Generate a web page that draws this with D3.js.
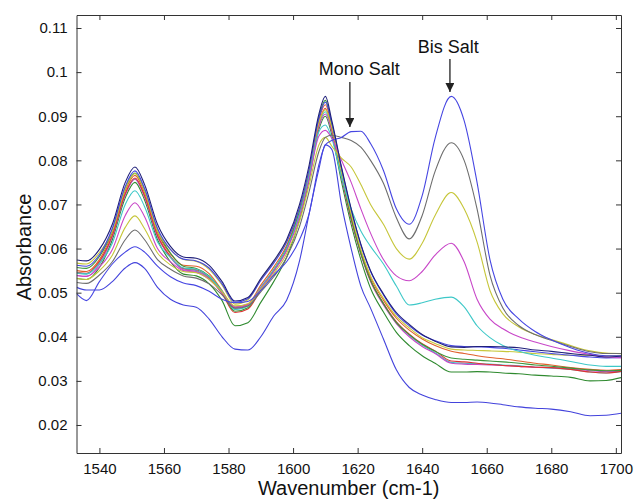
<!DOCTYPE html>
<html lang="en">
<head>
    <meta charset="UTF-8">
    <title>Absorbance spectra</title>
</head>
<style>
    body { margin: 0; background: #fff; }
    text { font-family: "Liberation Sans", Arial, sans-serif; fill: #111; }
    .spec { fill: none; stroke-width: 1.1px; stroke-linejoin: round; }
</style>
<body>
<script src="https://d3js.org/d3.v7.min.js"></script>
<script>
    const width = 636, height = 502;
    const margin = {top: 15, right: 15, bottom: 49, left: 76.5};

    // wavenumber grid (cm-1) shared by all spectra
    const wavenumbers = [1533, 1536, 1540, 1544, 1548, 1551, 1554, 1558, 1562, 1566,
        1570, 1574, 1578, 1582, 1586, 1590, 1594, 1598, 1602, 1605,
        1608, 1610, 1612, 1615, 1618, 1621, 1624, 1628, 1632, 1636,
        1640, 1644, 1649, 1653, 1657, 1661, 1665, 1670, 1675, 1680,
        1686, 1692, 1697, 1702];

    // spectra without the bis salt band
    const navy = [.0574, .0572, .0598, .0655, .0750, .0785, .0745, .0655, .0605, .0581,
        .0578, .0562, .0525, .0481, .0489, .0532, .0572, .0620, .0700, .0790,
        .0905, .0945, .0890, .0785, .0690, .0610, .0550, .0497, .0455, .0428,
        .0405, .0390, .0377, .0376, .0378, .0378, .0377, .0375, .0370, .0367,
        .0362, .0358, .0354, .0356];
    const blue = [.0562, .0560, .0586, .0646, .0741, .0776, .0736, .0646, .0598, .0576,
        .0572, .0556, .0520, .0478, .0486, .0528, .0567, .0614, .0692, .0780,
        .0895, .0932, .0885, .0782, .0688, .0608, .0548, .0495, .0452, .0425,
        .0404, .0391, .0380, .0378, .0377, .0376, .0374, .0370, .0366, .0362,
        .0358, .0354, .0352, .0353];
    const yellow = [.0567, .0565, .0591, .0640, .0735, .0770, .0730, .0640, .0598, .0575,
        .0571, .0553, .0517, .0474, .0484, .0530, .0570, .0616, .0692, .0778,
        .0885, .0915, .0875, .0772, .0678, .0598, .0538, .0487, .0446, .0420,
        .0398, .0385, .0372, .0370, .0369, .0368, .0367, .0365, .0362, .0360,
        .0358, .0358, .0357, .0358];
    const green = [.0557, .0555, .0582, .0641, .0736, .0771, .0731, .0641, .0590, .0560,
        .0555, .0538, .0502, .0458, .0466, .0510, .0552, .0602, .0685, .0775,
        .0898, .0936, .0880, .0770, .0670, .0590, .0528, .0475, .0432, .0405,
        .0383, .0367, .0352, .0349, .0347, .0345, .0343, .0340, .0336, .0333,
        .0329, .0325, .0323, .0324];
    const orange = [.0550, .0548, .0575, .0636, .0731, .0766, .0726, .0636, .0588, .0562,
        .0560, .0543, .0505, .0465, .0473, .0517, .0558, .0607, .0688, .0776,
        .0892, .0926, .0878, .0772, .0674, .0595, .0535, .0483, .0442, .0415,
        .0395, .0380, .0367, .0362, .0357, .0353, .0350, .0345, .0340, .0336,
        .0330, .0326, .0324, .0326];
    const red = [.0546, .0544, .0571, .0630, .0725, .0760, .0720, .0630, .0582, .0555,
        .0552, .0535, .0498, .0455, .0463, .0507, .0549, .0598, .0680, .0770,
        .0884, .0918, .0872, .0766, .0668, .0590, .0528, .0476, .0434, .0406,
        .0384, .0368, .0345, .0343, .0340, .0337, .0335, .0333, .0331, .0330,
        .0326, .0320, .0318, .0322];
    const magenta = [.0539, .0537, .0564, .0627, .0722, .0757, .0717, .0627, .0580, .0552,
        .0548, .0532, .0500, .0468, .0474, .0512, .0550, .0598, .0678, .0765,
        .0876, .0905, .0865, .0762, .0665, .0587, .0525, .0472, .0430, .0400,
        .0378, .0362, .0340, .0338, .0337, .0336, .0335, .0333, .0331, .0330,
        .0327, .0323, .0321, .0322];
    const cyan = [.0544, .0542, .0569, .0628, .0723, .0758, .0718, .0628, .0582, .0555,
        .0550, .0533, .0500, .0462, .0470, .0510, .0550, .0600, .0680, .0768,
        .0880, .0910, .0868, .0765, .0668, .0590, .0528, .0475, .0433, .0403,
        .0381, .0364, .0342, .0340, .0339, .0338, .0336, .0334, .0331, .0329,
        .0326, .0320, .0318, .0321];
    const green2 = [.0532, .0530, .0557, .0620, .0715, .0750, .0710, .0620, .0570, .0542,
        .0538, .0520, .0482, .0425, .0432, .0478, .0525, .0580, .0665, .0757,
        .0870, .0900, .0858, .0752, .0655, .0575, .0510, .0456, .0410, .0380,
        .0357, .0340, .0320, .0320, .0321, .0320, .0318, .0316, .0313, .0311,
        .0308, .0300, .0301, .0308];

    // spectra showing the bis salt band at ~1648
    const bisCyan = [.0545, .0543, .0566, .0612, .0700, .0731, .0695, .0615, .0580, .0556,
        .0553, .0536, .0503, .0462, .0470, .0512, .0552, .0600, .0678, .0765,
        .0865, .0880, .0850, .0762, .0690, .0640, .0605, .0565, .0515, .0472,
        .0477, .0485, .0490, .0468, .0425, .0398, .0380, .0367, .0358, .0352,
        .0344, .0336, .0333, .0333];
    const bisMagenta = [.0539, .0537, .0558, .0598, .0675, .0704, .0672, .0600, .0570, .0550,
        .0546, .0530, .0500, .0466, .0472, .0510, .0548, .0595, .0672, .0758,
        .0855, .0868, .0850, .0800, .0750, .0690, .0635, .0575, .0538, .0527,
        .0548, .0585, .0612, .0570, .0485, .0440, .0418, .0400, .0388, .0378,
        .0368, .0360, .0354, .0352];
    const bisYellow = [.0532, .0530, .0550, .0585, .0648, .0674, .0645, .0590, .0563, .0548,
        .0545, .0530, .0502, .0470, .0475, .0508, .0543, .0588, .0662, .0745,
        .0835, .0852, .0832, .0805, .0785, .0745, .0700, .0655, .0600, .0576,
        .0612, .0675, .0727, .0690, .0615, .0505, .0452, .0422, .0405, .0394,
        .0380, .0368, .0363, .0362];
    const bisGray = [.0523, .0521, .0540, .0570, .0620, .0642, .0620, .0575, .0553, .0538,
        .0533, .0520, .0495, .0465, .0470, .0502, .0536, .0580, .0650, .0730,
        .0820, .0852, .0857, .0852, .0845, .0830, .0800, .0748, .0670, .0622,
        .0675, .0775, .0840, .0800, .0690, .0540, .0465, .0425, .0405, .0392,
        .0378, .0366, .0362, .0362];
    const bisBlue = [.0497, .0482, .0525, .0565, .0592, .0604, .0592, .0560, .0536, .0522,
        .0516, .0503, .0485, .0477, .0480, .0505, .0540, .0570, .0620, .0680,
        .0790, .0835, .0845, .0852, .0865, .0866, .0838, .0777, .0690, .0655,
        .0720, .0850, .0945, .0890, .0750, .0575, .0485, .0440, .0412, .0393,
        .0375, .0362, .0357, .0357];
    const lowBlue = [.0512, .0506, .0506, .0525, .0556, .0568, .0555, .0512, .0485, .0472,
        .0467, .0440, .0400, .0372, .0370, .0400, .0447, .0483, .0572, .0680,
        .0780, .0835, .0825, .0700, .0600, .0515, .0465, .0395, .0325, .0285,
        .0268, .0258, .0251, .0251, .0252, .0250, .0246, .0241, .0238, .0236,
        .0230, .0221, .0222, .0227];

    const xTicks = [1540, 1560, 1580, 1600, 1620, 1640, 1660, 1680, 1700];
    const yTicks = [0.02, 0.03, 0.04, 0.05, 0.06, 0.07, 0.08, 0.09, 0.1, 0.11];

    const spectra = [
        {values: lowBlue, color: "#4343dc"},
        {values: green2, color: "#2f8a2f"},
        {values: cyan, color: "#3cc6c6"},
        {values: magenta, color: "#c648c6"},
        {values: red, color: "#e03232"},
        {values: orange, color: "#e0602c"},
        {values: green, color: "#3a963a"},
        {values: yellow, color: "#c8c83c"},
        {values: blue, color: "#4646e0"},
        {values: bisCyan, color: "#3ec8c8"},
        {values: bisMagenta, color: "#c846c8"},
        {values: bisYellow, color: "#c6c63a"},
        {values: bisGray, color: "#6e6e6e"},
        {values: bisBlue, color: "#4646e2"},
        {values: navy, color: "#20207a"}
    ];

    const svg = d3.select("body")
        .append("svg")
        .attr("width", width)
        .attr("height", height);

    const x = d3.scaleLinear()
        .domain([1532.9, 1701.6])
        .range([margin.left, width - margin.right]);
    const y = d3.scaleLinear()
        .domain([0.01365, 0.11295])
        .range([height - margin.bottom, margin.top]);

    svg.append("clipPath").attr("id", "plot-clip")
        .append("rect")
        .attr("x", margin.left).attr("y", margin.top)
        .attr("width", width - margin.left - margin.right)
        .attr("height", height - margin.top - margin.bottom);

    const line = d3.line()
        .x(function (d, i) { return x(wavenumbers[i]); })
        .y(function (d) { return y(d); })
        .curve(d3.curveMonotoneX);

    svg.append("g")
        .attr("clip-path", "url(#plot-clip)")
        .selectAll("path.spec")
        .data(spectra)
        .enter().append("path")
        .attr("class", "spec")
        .attr("stroke", function (d) { return d.color; })
        .attr("d", function (d) { return line(d.values); });

    // axes, MATLAB style box with inward ticks on all sides
    const fmt = function (d) { return String(+d.toFixed(2)); };
    const axisStyle = function (g) {
        g.select(".domain").attr("stroke", "#333");
        g.selectAll(".tick line").attr("stroke", "#333");
        g.selectAll("text").style("font-size", "15px").attr("fill", "#111");
    };

    svg.append("g")
        .attr("transform", "translate(0," + (height - margin.bottom) + ")")
        .call(d3.axisBottom(x).tickValues(xTicks).tickFormat(d3.format("d"))
            .tickSize(-5).tickPadding(7).tickSizeOuter(0))
        .call(axisStyle)
        .call(function (g) { g.selectAll("text").attr("dy", "0.95em"); });
    svg.append("g")
        .attr("transform", "translate(0," + margin.top + ")")
        .call(d3.axisTop(x).tickValues(xTicks).tickSize(-5).tickFormat("").tickSizeOuter(0))
        .call(axisStyle);
    svg.append("g")
        .attr("transform", "translate(" + margin.left + ",0)")
        .call(d3.axisLeft(y).tickValues(yTicks).tickFormat(fmt).tickSize(-5).tickPadding(9).tickSizeOuter(0))
        .call(axisStyle);
    svg.append("g")
        .attr("transform", "translate(" + (width - margin.right) + ",0)")
        .call(d3.axisRight(y).tickValues(yTicks).tickSize(-5).tickFormat("").tickSizeOuter(0))
        .call(axisStyle);

    svg.append("text")
        .attr("x", (margin.left + width - margin.right) / 2)
        .attr("y", 495)
        .attr("text-anchor", "middle")
        .style("font-size", "20px")
        .text("Wavenumber (cm-1)");

    svg.append("text")
        .attr("transform", "translate(31,247) rotate(-90)")
        .attr("text-anchor", "middle")
        .style("font-size", "20px")
        .text("Absorbance");

    // annotations
    svg.append("defs").append("marker")
        .attr("id", "arrow")
        .attr("viewBox", "0 -5 10 10")
        .attr("refX", 10)
        .attr("markerWidth", 7)
        .attr("markerHeight", 7)
        .attr("orient", "auto")
        .append("path")
        .attr("d", "M0,-5L10,0L0,5Z")
        .attr("fill", "#222");

    const notes = [
        {label: "Mono Salt", wn: 1617.6, textWn: 1620.5, textY: 75, y1: 82, y2: 127},
        {label: "Bis Salt", wn: 1648.6, textWn: 1648.1, textY: 53, y1: 59, y2: 92}
    ];
    notes.forEach(function (n) {
        svg.append("text")
            .attr("x", x(n.textWn))
            .attr("y", n.textY)
            .attr("text-anchor", "middle")
            .style("font-size", "18px")
            .text(n.label);
        svg.append("line")
            .attr("x1", x(n.wn)).attr("x2", x(n.wn))
            .attr("y1", n.y1).attr("y2", n.y2)
            .attr("stroke", "#222")
            .attr("stroke-width", 1.3)
            .attr("marker-end", "url(#arrow)");
    });
</script>
</body>
</html>
